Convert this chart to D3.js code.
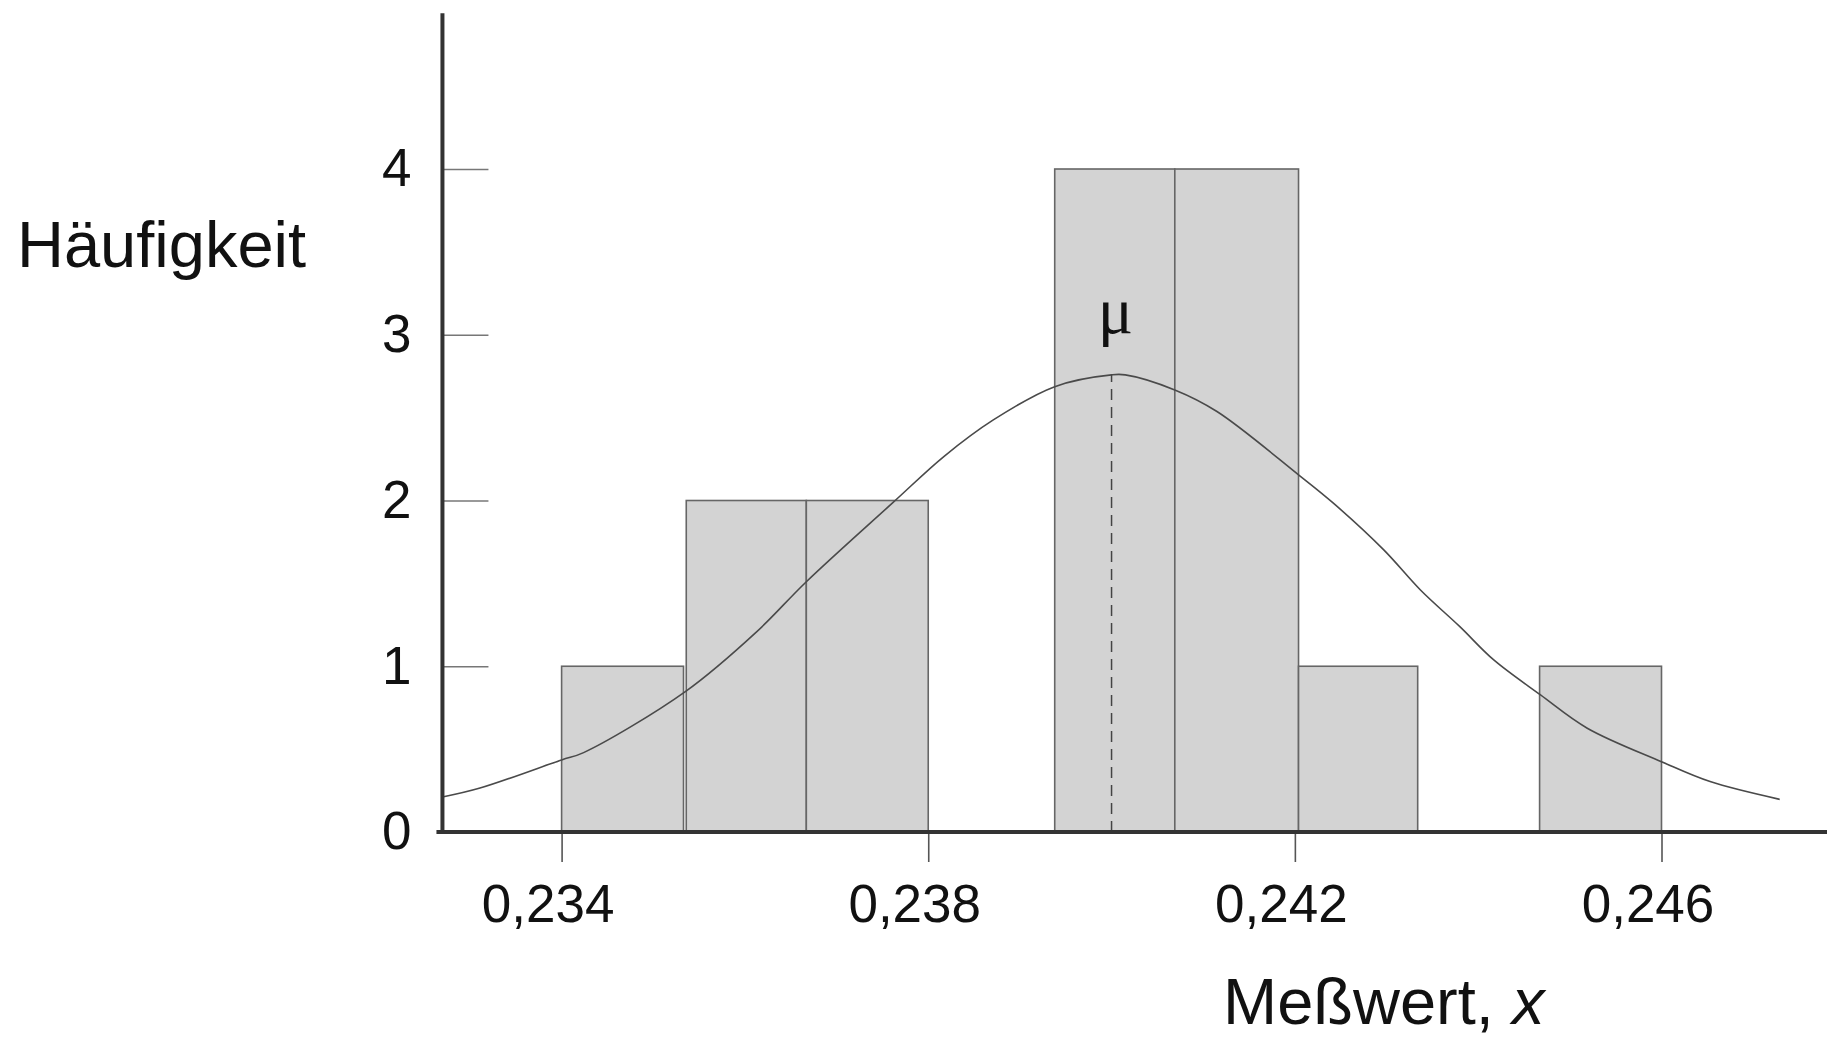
<!DOCTYPE html>
<html>
<head>
<meta charset="utf-8">
<script src="https://cdn.jsdelivr.net/npm/d3@7"></script>
<style>
  body { margin: 0; background: #fff; }
  svg text { font-family: "Liberation Sans", Arial, Helvetica, sans-serif; fill: #111; }
</style>
</head>
<body>
<script>
'use strict';

// histogram: lower edge, upper edge and count of each bin
const binLo  = [0.23400, 0.23536, 0.23667, 0.23938, 0.24069, 0.24204, 0.24467];
const binHi  = [0.23533, 0.23667, 0.23800, 0.24069, 0.24204, 0.24334, 0.24600];
const counts = [1, 2, 2, 4, 4, 1, 1];

// fitted curve, points
const curveX = [0.23270, 0.23311, 0.23400, 0.23424, 0.23535, 0.23613, 0.23667,
                0.23762, 0.23817, 0.23871, 0.23938, 0.24000, 0.24015, 0.24069,
                0.24115, 0.24204, 0.24242, 0.24297, 0.24337, 0.24380, 0.24417,
                0.24468, 0.24519, 0.24600, 0.24653, 0.24729];
const curveY = [0.211, 0.265, 0.435, 0.479, 0.847, 1.209, 1.510,
                1.990, 2.265, 2.486, 2.687, 2.758, 2.758, 2.667,
                2.537, 2.155, 1.984, 1.702, 1.460, 1.239, 1.038,
                0.827, 0.626, 0.424, 0.304, 0.197];

const mu = 0.240;
const muPeak = 2.758;

const xTicks = [0.234, 0.238, 0.242, 0.246];
const yTicks = [0, 1, 2, 3, 4];

const m = {
  width: 1827,
  height: 1041
}

const svg = d3.select('body')
  .append('svg')
  .attr('width', m.width)
  .attr('height', m.height);

const xScale = d3.scaleLinear()
  .domain([0.234, 0.246])
  .range([561.6, 1661.5]);

const yScale = d3.scaleLinear()
  .domain([0, 4])
  .range([832, 169]);

// axis extents (in data units)
const xMin = 0.2327, xMax = 0.2482, yTop = 4.94;

// german decimal comma
const de = d3.formatLocale({decimal: ',', thousands: '.', grouping: [3], currency: ['', ' €']});

// bars
svg.selectAll('.bar')
  .data(counts)
  .enter()
  .append('rect')
  .attr('class', 'bar')
  .attr('x', (d, i) => xScale(binLo[i]))
  .attr('width', (d, i) => xScale(binHi[i]) - xScale(binLo[i]))
  .attr('y', (d) => yScale(d))
  .attr('height', (d) => yScale(0) - yScale(d))
  .attr('fill', '#d3d3d3')
  .attr('stroke', '#666')
  .attr('stroke-width', 1.6);

// curve
const line = d3.line()
  .x((d) => xScale(d[0]))
  .y((d) => yScale(d[1]))
  .curve(d3.curveCatmullRom);

svg.append('path')
  .datum(curveX.map((x, i) => [x, curveY[i]]))
  .attr('d', line)
  .attr('fill', 'none')
  .attr('stroke', '#4a4a4a')
  .attr('stroke-width', 1.6);

// dashed line at mu
svg.append('line')
  .attr('x1', xScale(mu))
  .attr('x2', xScale(mu))
  .attr('y1', yScale(0))
  .attr('y2', yScale(muPeak))
  .attr('stroke', '#444')
  .attr('stroke-width', 1.5)
  .attr('stroke-dasharray', '11,7');

svg.append('text')
  .attr('x', xScale(mu) + 4)
  .attr('y', 333)
  .attr('text-anchor', 'middle')
  .style('font-family', '"Liberation Serif", "Times New Roman", serif')
  .style('font-size', '66px')
  .text('μ');

// y axis ticks + labels
const yAxis = d3.axisLeft(yScale)
  .tickValues(yTicks)
  .tickSize(-46)
  .tickPadding(31)
  .tickFormat(d3.format('d'));

const gy = svg.append('g')
  .attr('transform', 'translate(' + xScale(xMin) + ', 0)')
  .call(yAxis);
gy.select('.domain').remove();
gy.selectAll('.tick line').attr('stroke', '#777').attr('stroke-width', 1.6);
gy.selectAll('.tick text').style('font-size', '53px').attr('fill', '#111');

// x axis ticks + labels
const xAxis = d3.axisBottom(xScale)
  .tickValues(xTicks)
  .tickSize(30)
  .tickPadding(22)
  .tickFormat(de.format('.3f'));

const gx = svg.append('g')
  .attr('transform', 'translate(0, ' + yScale(0) + ')')
  .call(xAxis);
gx.select('.domain').remove();
gx.selectAll('.tick line').attr('stroke', '#555').attr('stroke-width', 1.6);
gx.selectAll('.tick text')
  .style('font-size', '53px')
  .attr('fill', '#111')
  .attr('dx', -14);

// axis lines
svg.append('line')
  .attr('x1', xScale(xMin))
  .attr('x2', xScale(xMin))
  .attr('y1', yScale(yTop))
  .attr('y2', yScale(0) + 2)
  .attr('stroke', '#333')
  .attr('stroke-width', 4);

svg.append('line')
  .attr('x1', xScale(xMin) - 6)
  .attr('x2', xScale(xMax))
  .attr('y1', yScale(0))
  .attr('y2', yScale(0))
  .attr('stroke', '#333')
  .attr('stroke-width', 4);

// axis titles
svg.append('text')
  .attr('x', 17)
  .attr('y', 267)
  .style('font-size', '65px')
  .text('Häufigkeit');

const xt = svg.append('text')
  .attr('x', 1223)
  .attr('y', 1024)
  .style('font-size', '65px');
xt.append('tspan').text('Meßwert, ');
xt.append('tspan').style('font-style', 'italic').text('x');
</script>
</body>
</html>
